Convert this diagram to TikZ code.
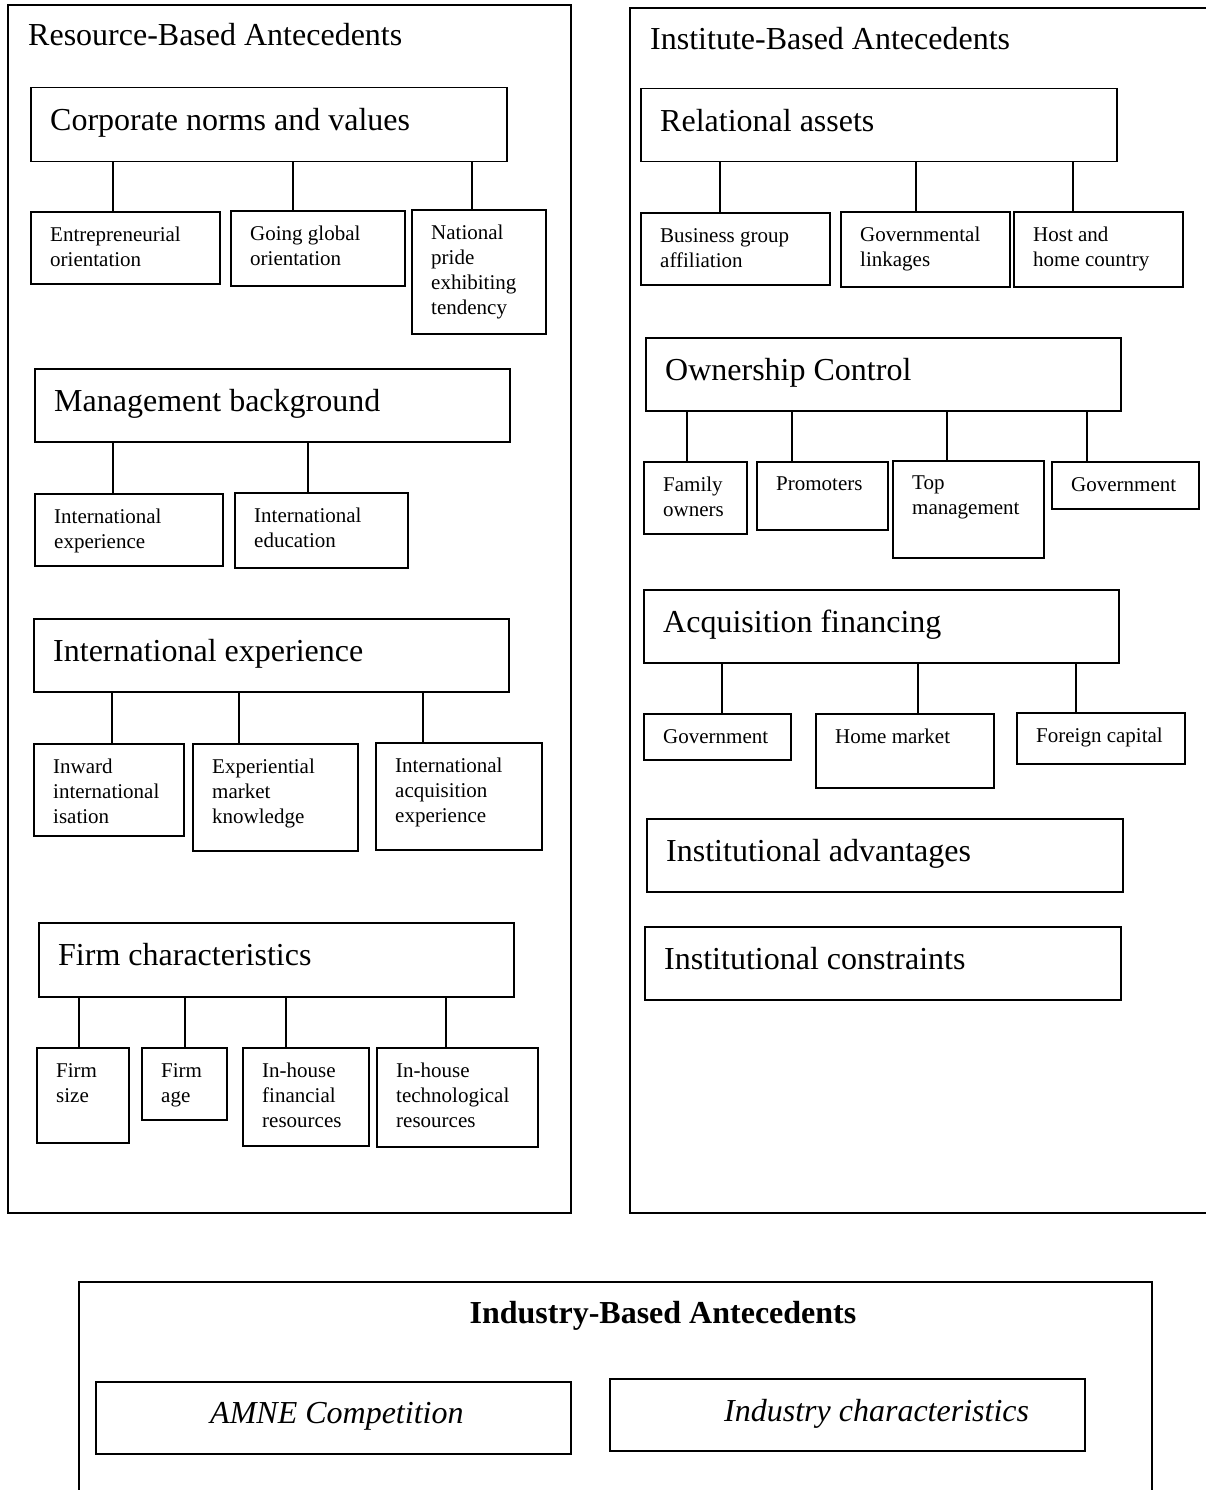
\documentclass[tikz,border=0pt]{standalone}
\usepackage{fontspec}
\setmainfont{Liberation Serif}
\usepackage{tikz}
\usetikzlibrary{positioning}

\tikzset{
  panel/.style={draw, line width=2pt},
  box/.style={draw, line width=1.5pt, anchor=north west, inner sep=0pt},
  stxt/.style={anchor=north west, align=flush left, inner sep=0pt,
    xshift=20pt, yshift=-16pt, font=\fontsize{21}{25}\selectfont},
  btxt/.style={anchor=north west, align=flush left, inner sep=0pt,
    xshift=20pt, yshift=-21pt, font=\fontsize{32}{38}\selectfont},
  itxt/.style={anchor=north west, inner sep=0pt,
    xshift=115pt, yshift=-21pt, font=\itshape\fontsize{32}{38}\selectfont},
  heading/.style={anchor=base west, inner sep=0pt, font=\fontsize{32}{38}\selectfont},
  link/.style={line width=1.5pt},
}

\begin{document}
\begin{tikzpicture}[x=1pt, y=-1pt]
\useasboundingbox (0,0) rectangle (1206,1490);

% Panels
\draw[panel] (8,5) rectangle (571,1213);
\draw[panel] (630,8) rectangle (1216,1213);
\draw[panel] (79,1282) rectangle (1152,1500);

%% Resource-based side
\node[heading] (rbtitle) at (28,46) {Resource-Based Antecedents};

% Corporate norms and values
\node[box, minimum width=476pt, minimum height=74pt, label={[btxt]north west:Corporate norms and values}] (cnv) at (30,87) {};
\node[box, minimum width=189pt, minimum height=72pt, label={[stxt]north west:Entrepreneurial\\orientation}] (entor) at (30,211) {};
\node[box, minimum width=174pt, minimum height=75pt, label={[stxt]north west:Going global\\orientation}] (ggor) at (230,210) {};
\node[box, minimum width=134pt, minimum height=124pt, label={[stxt]north west:National\\pride\\exhibiting\\tendency}] (natpr) at (411,209) {};
\foreach \n/\xx in {entor/113, ggor/293, natpr/472}
  \draw[link] (cnv.south -| \xx,0) -- (\n.north -| \xx,0);

% Management background
\node[box, minimum width=475pt, minimum height=73pt, label={[btxt]north west:Management background}] (mgmt) at (34,368) {};
\node[box, minimum width=188pt, minimum height=72pt, label={[stxt]north west:International\\experience}] (intexp) at (34,493) {};
\node[box, minimum width=173pt, minimum height=75pt, label={[stxt]north west:International\\education}] (inted) at (234,492) {};
\foreach \n/\xx in {intexp/113, inted/308}
  \draw[link] (mgmt.south -| \xx,0) -- (\n.north -| \xx,0);

% International experience
\node[box, minimum width=475pt, minimum height=73pt, label={[btxt]north west:International experience}] (iexp) at (33,618) {};
\node[box, minimum width=150pt, minimum height=92pt, label={[stxt]north west:Inward\\international\\isation}] (inward) at (33,743) {};
\node[box, minimum width=165pt, minimum height=107pt, label={[stxt]north west:Experiential\\market\\knowledge}] (expmk) at (192,743) {};
\node[box, minimum width=166pt, minimum height=107pt, label={[stxt]north west:International\\acquisition\\experience}] (acqexp) at (375,742) {};
\foreach \n/\xx in {inward/112, expmk/239, acqexp/423}
  \draw[link] (iexp.south -| \xx,0) -- (\n.north -| \xx,0);

% Firm characteristics
\node[box, minimum width=475pt, minimum height=74pt, label={[btxt]north west:Firm characteristics}] (firmch) at (38,922) {};
\node[box, minimum width=92pt, minimum height=95pt, label={[stxt]north west:Firm\\size}] (fsize) at (36,1047) {};
\node[box, minimum width=85pt, minimum height=72pt, label={[stxt]north west:Firm\\age}] (fage) at (141,1047) {};
\node[box, minimum width=126pt, minimum height=98pt, label={[stxt]north west:In-house\\financial\\resources}] (finres) at (242,1047) {};
\node[box, minimum width=161pt, minimum height=99pt, label={[stxt]north west:In-house\\technological\\resources}] (techres) at (376,1047) {};
\foreach \n/\xx in {fsize/79, fage/185, finres/286, techres/446}
  \draw[link] (firmch.south -| \xx,0) -- (\n.north -| \xx,0);

%% Institute-based side
\node[heading] (ibtitle) at (650,50) {Institute-Based Antecedents};

% Relational assets
\node[box, minimum width=476pt, minimum height=73pt, label={[btxt]north west:Relational assets}] (relas) at (640,88) {};
\node[box, minimum width=189pt, minimum height=72pt, label={[stxt]north west:Business group\\affiliation}] (bga) at (640,212) {};
\node[box, minimum width=169pt, minimum height=75pt, label={[stxt]north west:Governmental\\linkages}] (govlk) at (840,211) {};
\node[box, minimum width=169pt, minimum height=75pt, label={[stxt]north west:Host and\\home country}] (hhc) at (1013,211) {};
\foreach \n/\xx in {bga/720, govlk/916, hhc/1073}
  \draw[link] (relas.south -| \xx,0) -- (\n.north -| \xx,0);

% Ownership control
\node[box, minimum width=475pt, minimum height=73pt, label={[btxt]north west:Ownership Control}] (owner) at (645,337) {};
\node[box, minimum width=103pt, minimum height=72pt, label={[stxt]north west:Family\\owners}] (famown) at (643,461) {};
\node[box, minimum width=131pt, minimum height=68pt, label={[stxt]north west:Promoters}] (promo) at (756,461) {};
\node[box, minimum width=151pt, minimum height=97pt, label={[stxt]north west:Top\\management}] (topmg) at (892,460) {};
\node[box, minimum width=147pt, minimum height=47pt, label={[stxt]north west:Government}] (govown) at (1051,461) {};
\foreach \n/\xx in {famown/687, promo/792, topmg/947, govown/1087}
  \draw[link] (owner.south -| \xx,0) -- (\n.north -| \xx,0);

% Acquisition financing
\node[box, minimum width=475pt, minimum height=73pt, label={[btxt]north west:Acquisition financing}] (acqfin) at (643,589) {};
\node[box, minimum width=147pt, minimum height=46pt, label={[stxt]north west:Government}] (govfin) at (643,713) {};
\node[box, minimum width=178pt, minimum height=74pt, label={[stxt]north west:Home market}] (homemk) at (815,713) {};
\node[box, minimum width=168pt, minimum height=51pt, label={[stxt]north west:Foreign capital}] (forcap) at (1016,712) {};
\foreach \n/\xx in {govfin/722, homemk/918, forcap/1076}
  \draw[link] (acqfin.south -| \xx,0) -- (\n.north -| \xx,0);

\node[box, minimum width=476pt, minimum height=73pt, label={[btxt]north west:Institutional advantages}] (instadv) at (646,818) {};
\node[box, minimum width=476pt, minimum height=73pt, label={[btxt]north west:Institutional constraints}] (instcon) at (644,926) {};

%% Industry-based
\node[anchor=base, inner sep=0pt, font=\bfseries\fontsize{32}{38}\selectfont] (indtitle) at (663,1323) {Industry-Based Antecedents};
\node[box, minimum width=475pt, minimum height=72pt, label={[itxt]north west:AMNE Competition}] (amne) at (95,1381) {};
\node[box, minimum width=475pt, minimum height=72pt, label={[itxt]north west:Industry characteristics}] (indch) at (609,1378) {};
\end{tikzpicture}
\end{document}
